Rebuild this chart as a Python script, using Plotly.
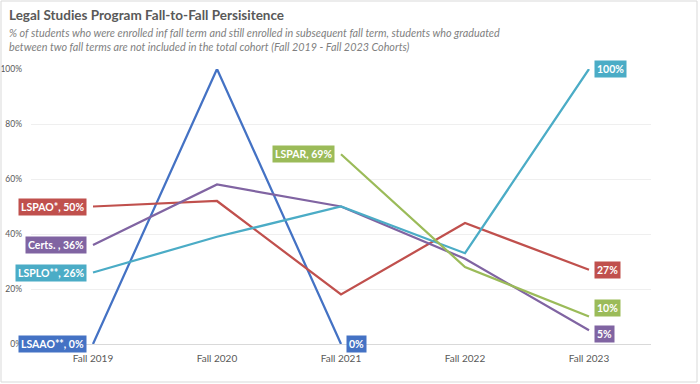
import plotly.graph_objects as go

categories = ["Fall 2019", "Fall 2020", "Fall 2021", "Fall 2022", "Fall 2023"]
lsaao = [0, 100, 0, None, None]
lspao = [50, 52, 18, 44, 27]
certs = [36, 58, 50, 31, 5]
lsplo = [26, 39, 50, 33, 100]
lspar = [None, None, 69, 28, 10]

series = [
    ("LSAAO**", lsaao, "#4472C4"),
    ("LSPAO*", lspao, "#C0504D"),
    ("Certs. ", certs, "#8064A2"),
    ("LSPLO**", lsplo, "#4BACC6"),
    ("LSPAR", lspar, "#9BBB59"),
]

FONT = "Lato, Open Sans, sans-serif"

fig = go.Figure()
for name, vals, col in series:
    fig.add_trace(go.Scatter(x=categories, y=vals, mode="lines", name=name,
                             line=dict(color=col, width=2.25), cliponaxis=False,
                             connectgaps=False, hoverinfo="skip"))

def label(x, y, text, col, side, yshift=0):
    fig.add_annotation(x=x, y=y, text="<b>%s</b>" % text, showarrow=False,
                       xanchor="right" if side == "left" else "left",
                       xshift=-6 if side == "left" else 5, yshift=yshift,
                       bgcolor=col, borderpad=2,
                       font=dict(family=FONT, size=10.5, color="white"))

for name, vals, col in series:
    idx = [i for i, v in enumerate(vals) if v is not None]
    first, last = idx[0], idx[-1]
    label(categories[first], vals[first], "%s, %d%%" % (name, vals[first]), col, "left")
    label(categories[last], vals[last], "%d%%" % vals[last], col, "right",
          yshift=(9 if name == "LSPAR" else (-4 if name == "Certs. " else 0)))

W, H = 700, 384
ml, mr, mt, mb = 31, 49, 69, 40
pw, ph = W - ml - mr, H - mt - mb
fig.add_shape(type="rect", xref="paper", yref="paper",
              x0=-(ml - 1) / pw, x1=1 + (mr - 3) / pw,
              y0=-(mb - 2) / ph, y1=1 + (mt - 1) / ph,
              line=dict(color="#D9D9D9", width=1))

fig.add_annotation(xref="paper", yref="paper", x=-(ml - 7) / pw, y=1 + (mt - 5) / ph,
                   xanchor="left", yanchor="top", showarrow=False, align="left",
                   text="<b>Legal Studies Program Fall-to-Fall Persisitence</b>",
                   font=dict(family=FONT, size=13.5, color="#595959"))
fig.add_annotation(xref="paper", yref="paper", x=-(ml - 7) / pw, y=1 + (mt - 24) / ph,
                   xanchor="left", yanchor="top", showarrow=False, align="left",
                   text="<i>% of students who were enrolled inf fall term and still enrolled in subsequent fall term, students who graduated<br>between two fall terms are not included in the total cohort (Fall 2019 - Fall 2023 Cohorts)</i>",
                   font=dict(family=FONT, size=10.8, color="#7F7F7F"))

fig.update_layout(
    width=W, height=H, margin=dict(l=ml, r=mr, t=mt, b=mb, autoexpand=False),
    paper_bgcolor="white", plot_bgcolor="white", showlegend=False,
    font=dict(family=FONT, color="#595959"),
    xaxis=dict(type="category", range=[-0.5, 4.5], showgrid=False, ticks="",
               showline=True, linecolor="#D9D9D9", ticklabelstandoff=5,
               automargin=False, tickfont=dict(size=10, color="#595959")),
    yaxis=dict(range=[0, 100], tickvals=[0, 20, 40, 60, 80, 100],
               ticktext=["0%", "20%", "40%", "60%", "80%", "100%"],
               showgrid=True, gridcolor="#EFEFEF", zeroline=False, ticks="",
               automargin=False,
               tickfont=dict(size=8.5, color="#595959"), ticklabelstandoff=8),
)

fig.write_html("out.html", config={"displayModeBar": False},
               post_script="document.body.style.margin='0';")
